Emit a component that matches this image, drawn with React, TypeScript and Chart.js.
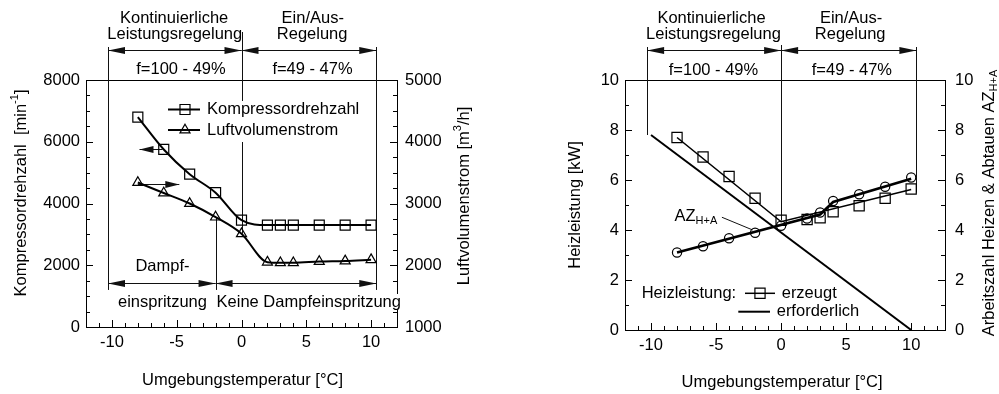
import React, { useEffect, useRef } from 'react';
import { Chart, registerables } from 'chart.js';

Chart.register(...registerables);

const FONT_FAMILY = '"Liberation Sans", Arial, Helvetica, sans-serif';
const FS = 16.5;
const SMALL = 11;
const INK = '#000000';
const LINE = '#111111';

// ---------------- Left panel data ----------------
const tempLeft = [-8, -6, -4, -2, 0, 2, 3, 4, 6, 8, 10];
const kompressorDrehzahl = [6800, 5750, 4950, 4350, 3460, 3300, 3300, 3300, 3300, 3300, 3300];
const luftVolumenstrom = [3340, 3170, 3000, 2780, 2510, 2050, 2040, 2040, 2060, 2070, 2090];

// ---------------- Right panel data ----------------
const tempRight = [-8, -6, -4, -2, 0, 2, 3, 4, 6, 8, 10];
const heizErzeugt = [7.7, 6.92, 6.14, 5.27, 4.39, 4.42, 4.49, 4.73, 4.97, 5.27, 5.64];
const erzeugtFitT = [-8, 0, 10];
const erzeugtFitV = [7.7, 4.33, 5.62];
const azHA = [3.1, 3.35, 3.67, 3.89, 4.17, 4.46, 4.7, 5.16, 5.43, 5.73, 6.1];
const azFitT = [-8, 3, 4, 10];
const azFitV = [3.1, 4.62, 5.12, 6.05];
const erforderlichT = [-10, 10];
const erforderlichV = [7.8, 0];

// ---------------- Tick labels ----------------
const xMajorTicks = [-10, -5, 0, 5, 10];
const leftYTicks = [0, 2000, 4000, 6000, 8000];
const leftY2Ticks = [1000, 2000, 3000, 4000, 5000];
const rightYTicks = [0, 2, 4, 6, 8, 10];
const rightY2Ticks = [0, 2, 4, 6, 8, 10];

type Seg = { t: string; s?: number; dy?: number };

function setFont(ctx: CanvasRenderingContext2D, size: number) {
  ctx.font = `${size}px ${FONT_FAMILY}`;
}

function drawRich(
  ctx: CanvasRenderingContext2D,
  x: number,
  y: number,
  segs: Seg[],
  align: 'left' | 'center' | 'right' = 'left',
  rotate = false,
  bg = false
) {
  ctx.save();
  ctx.translate(x, y);
  if (rotate) ctx.rotate(-Math.PI / 2);
  let w = 0;
  const widths = segs.map((sg) => {
    setFont(ctx, sg.s ?? FS);
    const m = ctx.measureText(sg.t).width;
    w += m;
    return m;
  });
  let cx = align === 'left' ? 0 : align === 'center' ? -w / 2 : -w;
  if (bg) {
    ctx.fillStyle = '#ffffff';
    ctx.fillRect(cx - 1, -8, w + 2, 16);
  }
  ctx.fillStyle = INK;
  ctx.textBaseline = 'middle';
  ctx.textAlign = 'left';
  segs.forEach((sg, i) => {
    setFont(ctx, sg.s ?? FS);
    ctx.fillText(sg.t, cx, sg.dy ?? 0);
    cx += widths[i];
  });
  ctx.restore();
}

function vline(ctx: CanvasRenderingContext2D, x: number, y1: number, y2: number) {
  const px = Math.round(x) + 0.5;
  ctx.beginPath();
  ctx.moveTo(px, y1);
  ctx.lineTo(px, y2);
  ctx.stroke();
}

function hline(ctx: CanvasRenderingContext2D, x1: number, x2: number, y: number) {
  const py = Math.round(y) + 0.5;
  ctx.beginPath();
  ctx.moveTo(x1, py);
  ctx.lineTo(x2, py);
  ctx.stroke();
}

function arrowHead(ctx: CanvasRenderingContext2D, tipX: number, tipY: number, dir: number, len = 17, hw = 3.5) {
  const y = Math.round(tipY) + 0.5;
  ctx.beginPath();
  ctx.moveTo(tipX, y);
  ctx.lineTo(tipX - dir * len, y - hw);
  ctx.lineTo(tipX - dir * len, y + hw);
  ctx.closePath();
  ctx.fill();
}

function doubleArrow(ctx: CanvasRenderingContext2D, x1: number, x2: number, y: number) {
  hline(ctx, x1, x2, y);
  arrowHead(ctx, x1, y, -1);
  arrowHead(ctx, x2, y, 1);
}

function drawMarker(ctx: CanvasRenderingContext2D, style: string, x: number, y: number, r: number) {
  ctx.beginPath();
  if (style === 'rect') {
    const s = r * Math.SQRT1_2;
    ctx.rect(x - s, y - s, 2 * s, 2 * s);
  } else if (style === 'triangle') {
    let rad = 0;
    ctx.moveTo(x + Math.sin(rad) * r, y - Math.cos(rad) * r);
    rad += (2 * Math.PI) / 3;
    ctx.lineTo(x + Math.sin(rad) * r, y - Math.cos(rad) * r);
    rad += (2 * Math.PI) / 3;
    ctx.lineTo(x + Math.sin(rad) * r, y - Math.cos(rad) * r);
    ctx.closePath();
  } else {
    ctx.arc(x, y, r, 0, Math.PI * 2);
  }
  ctx.stroke();
}

function range(a: number, b: number, step: number) {
  const out: number[] = [];
  for (let v = a; v <= b + 1e-9; v += step) out.push(v);
  return out;
}

function drawAxisTicks(chart: any, ticks: { x: [number[], number[]]; y: [number[], number[]]; y2: [number[], number[]] }) {
  const ctx: CanvasRenderingContext2D = chart.ctx;
  const ca = chart.chartArea;
  ctx.save();
  ctx.strokeStyle = INK;
  ctx.lineWidth = 1;
  const MAJ = 7;
  const MIN = 4;
  const sx = chart.scales.x;
  ticks.x[0].forEach((v) => vline(ctx, sx.getPixelForValue(v), ca.bottom, ca.bottom - MAJ));
  ticks.x[1].forEach((v) => vline(ctx, sx.getPixelForValue(v), ca.bottom, ca.bottom - MIN));
  const sy = chart.scales.y;
  ticks.y[0].forEach((v) => hline(ctx, ca.left, ca.left + MAJ, sy.getPixelForValue(v)));
  ticks.y[1].forEach((v) => hline(ctx, ca.left, ca.left + MIN, sy.getPixelForValue(v)));
  const sy2 = chart.scales.y2;
  ticks.y2[0].forEach((v) => hline(ctx, ca.right - MAJ, ca.right, sy2.getPixelForValue(v)));
  ticks.y2[1].forEach((v) => hline(ctx, ca.right - MIN, ca.right, sy2.getPixelForValue(v)));
  // top frame line
  hline(ctx, ca.left, ca.right + 0.5, ca.top);
  ctx.restore();
}

function baseScales(
  xMin: number,
  xMax: number,
  yTicks: number[],
  y2Ticks: number[],
  xHeight: number,
  yWidth: number,
  y2Width: number,
  y2Pad: number
) {
  const font = { family: FONT_FAMILY, size: FS };
  const common = {
    grid: { display: false, drawTicks: false },
    border: { display: true, color: INK, width: 1 },
  };
  return {
    x: {
      type: 'linear',
      min: xMin,
      max: xMax,
      ...common,
      afterBuildTicks: (s: any) => {
        s.ticks = xMajorTicks.map((value) => ({ value }));
      },
      afterFit: (s: any) => {
        s.height = xHeight;
      },
      ticks: { font, color: INK, padding: 6, maxRotation: 0, autoSkip: false, callback: (v: any) => String(v) },
    },
    y: {
      type: 'linear',
      position: 'left',
      min: yTicks[0],
      max: yTicks[yTicks.length - 1],
      ...common,
      afterBuildTicks: (s: any) => {
        s.ticks = yTicks.map((value) => ({ value }));
      },
      afterFit: (s: any) => {
        s.width = yWidth;
      },
      ticks: { font, color: INK, padding: 6, autoSkip: false, callback: (v: any) => String(v) },
    },
    y2: {
      type: 'linear',
      position: 'right',
      min: y2Ticks[0],
      max: y2Ticks[y2Ticks.length - 1],
      ...common,
      afterBuildTicks: (s: any) => {
        s.ticks = y2Ticks.map((value) => ({ value }));
      },
      afterFit: (s: any) => {
        s.width = y2Width;
      },
      ticks: { font, color: INK, padding: y2Pad, autoSkip: false, callback: (v: any) => String(v) },
    },
  };
}

function leftConfig(): any {
  const annot = {
    id: 'leftAnnot',
    beforeDatasetsDraw(chart: any) {
      const ctx: CanvasRenderingContext2D = chart.ctx;
      const ca = chart.chartArea;
      const X = (v: number) => chart.scales.x.getPixelForValue(v);
      const Y = (v: number) => chart.scales.y.getPixelForValue(v);
      const Y2 = (v: number) => chart.scales.y2.getPixelForValue(v);
      drawAxisTicks(chart, {
        x: [xMajorTicks, range(-11, 11, 1)],
        y: [leftYTicks, range(0, 8000, 500)],
        y2: [leftY2Ticks, range(1000, 5000, 250)],
      });
      ctx.save();
      ctx.strokeStyle = LINE;
      ctx.fillStyle = LINE;
      ctx.lineWidth = 1;
      const i0 = tempLeft.indexOf(0);
      const im2 = tempLeft.indexOf(-2);
      vline(ctx, X(-10.3), ca.top - 33, Y(1200));
      vline(ctx, X(10.4), ca.top - 33, Y(1200));
      vline(ctx, X(0), ca.top - 48, Y2(luftVolumenstrom[i0]));
      vline(ctx, X(-2), Y2(luftVolumenstrom[im2]), Y(1200));
      doubleArrow(ctx, X(-10.3), X(0), ca.top - 30);
      doubleArrow(ctx, X(0), X(10.4), ca.top - 30);
      doubleArrow(ctx, X(-10.3), X(-2), Y(1425));
      doubleArrow(ctx, X(-2), X(10.4), Y(1425));
      // axis-pointer arrows
      const im6 = tempLeft.indexOf(-6);
      const im8 = tempLeft.indexOf(-8);
      const ya = Y(kompressorDrehzahl[im6]);
      hline(ctx, X(-7.87), X(-6.1), ya);
      arrowHead(ctx, X(-7.87), ya, -1, 14, 3.5);
      const yb = Y2(luftVolumenstrom[im8]) + 1;
      hline(ctx, X(-8.0), X(-4.8), yb);
      arrowHead(ctx, X(-4.8), yb, 1, 14, 3.5);
      ctx.restore();
    },
    afterDatasetsDraw(chart: any) {
      const ctx: CanvasRenderingContext2D = chart.ctx;
      const ca = chart.chartArea;
      const X = (v: number) => chart.scales.x.getPixelForValue(v);
      const Y = (v: number) => chart.scales.y.getPixelForValue(v);
      // Texts above plot
      drawRich(ctx, X(-5.2), ca.top - 62, [{ t: 'Kontinuierliche' }], 'center');
      drawRich(ctx, X(-5.15), ca.top - 46, [{ t: 'Leistungsregelung' }], 'center');
      drawRich(ctx, X(5.5), ca.top - 62, [{ t: 'Ein/Aus-' }], 'center');
      drawRich(ctx, X(5.45), ca.top - 46, [{ t: 'Regelung' }], 'center');
      drawRich(ctx, X(-4.67), ca.top - 11, [{ t: 'f=100 - 49%' }], 'center');
      drawRich(ctx, X(5.48), ca.top - 11, [{ t: 'f=49 - 47%' }], 'center');
      // Bottom annotation texts
      drawRich(ctx, X(-6.1), Y(1950), [{ t: 'Dampf-' }], 'center');
      drawRich(ctx, X(-6.1), Y(810), [{ t: 'einspritzung' }], 'center', false, true);
      drawRich(ctx, X(-2) + 1, Y(810), [{ t: 'Keine Dampfeinspritzung' }], 'left', false, true);
      // Legend
      ctx.save();
      ctx.fillStyle = '#ffffff';
      ctx.fillRect(ca.left + 79, ca.top + 21, 205, 41);
      ctx.strokeStyle = INK;
      ctx.lineWidth = 2;
      const r1 = ca.top + 29.5;
      const r2 = ca.top + 50;
      ctx.beginPath();
      ctx.moveTo(ca.left + 82, r1);
      ctx.lineTo(ca.left + 114, r1);
      ctx.moveTo(ca.left + 82, r2);
      ctx.lineTo(ca.left + 114, r2);
      ctx.stroke();
      ctx.lineWidth = 1.2;
      drawMarker(ctx, 'rect', ca.left + 99, r1, 7.07);
      drawMarker(ctx, 'triangle', ca.left + 99, r2, 5.8);
      ctx.restore();
      drawRich(ctx, ca.left + 121, r1, [{ t: 'Kompressordrehzahl' }], 'left');
      drawRich(ctx, ca.left + 121, r2, [{ t: 'Luftvolumenstrom' }], 'left');
    },
    afterDraw(chart: any) {
      const ctx: CanvasRenderingContext2D = chart.ctx;
      const ca = chart.chartArea;
      const X = (v: number) => chart.scales.x.getPixelForValue(v);
      drawRich(ctx, X(0) + 1, ca.bottom + 53, [{ t: 'Umgebungstemperatur [°C]' }], 'center');
      drawRich(
        ctx,
        21,
        193,
        [{ t: 'Kompressordrehzahl  [min' }, { t: '-1', s: SMALL, dy: -6 }, { t: ']' }],
        'center',
        true
      );
      drawRich(
        ctx,
        464,
        196,
        [{ t: 'Luftvolumenstrom [m' }, { t: '3', s: SMALL, dy: -6 }, { t: '/h]' }],
        'center',
        true
      );
    },
  };

  const pt = {
    pointBackgroundColor: 'rgba(0,0,0,0)',
    pointBorderColor: INK,
    pointBorderWidth: 1.2,
  };

  return {
    type: 'scatter',
    data: {
      datasets: [
        {
          label: 'Kompressordrehzahl',
          data: tempLeft.map((x, i) => ({ x, y: kompressorDrehzahl[i] })),
          yAxisID: 'y',
          showLine: true,
          borderColor: INK,
          borderWidth: 2,
          cubicInterpolationMode: 'monotone',
          pointStyle: 'rect',
          pointRadius: 7.07,
          ...pt,
        },
        {
          label: 'Luftvolumenstrom',
          data: tempLeft.map((x, i) => ({ x, y: luftVolumenstrom[i] })),
          yAxisID: 'y2',
          showLine: true,
          borderColor: INK,
          borderWidth: 2,
          cubicInterpolationMode: 'monotone',
          pointStyle: 'triangle',
          pointRadius: 5.8,
          ...pt,
        },
      ],
    },
    options: {
      animation: false,
      responsive: false,
      events: [],
      layout: { padding: { top: 80, left: 0, right: 0, bottom: 0 } },
      plugins: { legend: { display: false }, tooltip: { enabled: false } },
      scales: baseScales(-12, 12, leftYTicks, leftY2Ticks, 67, 86, 103, 8),
    },
    plugins: [annot],
  };
}

function rightConfig(): any {
  const annot = {
    id: 'rightAnnot',
    beforeDatasetsDraw(chart: any) {
      const ctx: CanvasRenderingContext2D = chart.ctx;
      const ca = chart.chartArea;
      const X = (v: number) => chart.scales.x.getPixelForValue(v);
      const Y = (v: number) => chart.scales.y.getPixelForValue(v);
      drawAxisTicks(chart, {
        x: [xMajorTicks, range(-11, 12, 1)],
        y: [rightYTicks, range(0, 10, 1)],
        y2: [rightY2Ticks, range(0, 10, 1)],
      });
      ctx.save();
      ctx.strokeStyle = LINE;
      ctx.fillStyle = LINE;
      ctx.lineWidth = 1;
      const i0 = tempRight.indexOf(0);
      vline(ctx, X(-10.3), ca.top - 33, Y(erforderlichV[0]));
      vline(ctx, X(0), ca.top - 35, Y(heizErzeugt[i0]));
      vline(ctx, X(10.4), ca.top - 33, Y(5.5));
      doubleArrow(ctx, X(-10.3), X(0), ca.top - 30);
      doubleArrow(ctx, X(0), X(10.4), ca.top - 30);
      // leader line for AZ label
      ctx.beginPath();
      ctx.moveTo(X(-4.55), Y(4.51));
      ctx.lineTo(X(-2.18), Y(4.0));
      ctx.stroke();
      ctx.restore();
    },
    afterDatasetsDraw(chart: any) {
      const ctx: CanvasRenderingContext2D = chart.ctx;
      const ca = chart.chartArea;
      const X = (v: number) => chart.scales.x.getPixelForValue(v);
      const Y = (v: number) => chart.scales.y.getPixelForValue(v);
      drawRich(ctx, X(-5.35), ca.top - 62, [{ t: 'Kontinuierliche' }], 'center');
      drawRich(ctx, X(-5.2), ca.top - 46, [{ t: 'Leistungsregelung' }], 'center');
      drawRich(ctx, X(5.38), ca.top - 62, [{ t: 'Ein/Aus-' }], 'center');
      drawRich(ctx, X(5.31), ca.top - 46, [{ t: 'Regelung' }], 'center');
      drawRich(ctx, X(-5.2), ca.top - 10, [{ t: 'f=100 - 49%' }], 'center');
      drawRich(ctx, X(5.44), ca.top - 10, [{ t: 'f=49 - 47%' }], 'center');
      // AZ label
      drawRich(ctx, X(-8.2), Y(4.55), [{ t: 'AZ' }, { t: 'H+A', s: SMALL, dy: 5 }], 'left');
      // Legend
      const r1 = ca.top + 213.3;
      const r2 = ca.top + 231.7;
      drawRich(ctx, ca.left + 16.7, r1, [{ t: 'Heizleistung:' }], 'left');
      ctx.save();
      ctx.strokeStyle = INK;
      ctx.lineWidth = 1.5;
      ctx.beginPath();
      ctx.moveTo(ca.left + 120, r1);
      ctx.lineTo(ca.left + 150, r1);
      ctx.stroke();
      ctx.lineWidth = 1.2;
      drawMarker(ctx, 'rect', ca.left + 135, r1, 7.2);
      ctx.lineWidth = 2;
      ctx.beginPath();
      ctx.moveTo(ca.left + 113.3, r2);
      ctx.lineTo(ca.left + 145, r2);
      ctx.stroke();
      ctx.restore();
      drawRich(ctx, ca.left + 156.7, r1, [{ t: 'erzeugt' }], 'left');
      drawRich(ctx, ca.left + 151.7, r2, [{ t: 'erforderlich' }], 'left');
    },
    afterDraw(chart: any) {
      const ctx: CanvasRenderingContext2D = chart.ctx;
      const ca = chart.chartArea;
      const X = (v: number) => chart.scales.x.getPixelForValue(v);
      drawRich(ctx, X(0) + 1, ca.bottom + 52, [{ t: 'Umgebungstemperatur [°C]' }], 'center');
      drawRich(ctx, 75, 205, [{ t: 'Heizleistung [kW]' }], 'center', true);
      drawRich(
        ctx,
        489,
        203,
        [{ t: 'Arbeitszahl Heizen & Abtauen AZ' }, { t: 'H+A', s: SMALL, dy: 5 }],
        'center',
        true
      );
    },
  };

  const noPts = { pointRadius: 0, pointHoverRadius: 0 };
  const pt = {
    pointBackgroundColor: 'rgba(0,0,0,0)',
    pointBorderColor: INK,
    pointBorderWidth: 1.2,
  };

  return {
    type: 'scatter',
    data: {
      datasets: [
        {
          label: 'erforderlich',
          data: erforderlichT.map((x, i) => ({ x, y: erforderlichV[i] })),
          yAxisID: 'y',
          showLine: true,
          borderColor: INK,
          borderWidth: 2,
          ...noPts,
        },
        {
          label: 'erzeugt (Linie)',
          data: erzeugtFitT.map((x, i) => ({ x, y: erzeugtFitV[i] })),
          yAxisID: 'y',
          showLine: true,
          borderColor: INK,
          borderWidth: 1.6,
          ...noPts,
        },
        {
          label: 'erzeugt',
          data: tempRight.map((x, i) => ({ x, y: heizErzeugt[i] })),
          yAxisID: 'y',
          showLine: false,
          pointStyle: 'rect',
          pointRadius: 7.2,
          ...pt,
        },
        {
          label: 'AZ H+A (Linie)',
          data: azFitT.map((x, i) => ({ x, y: azFitV[i] })),
          yAxisID: 'y2',
          showLine: true,
          borderColor: INK,
          borderWidth: 2.6,
          ...noPts,
        },
        {
          label: 'AZ H+A',
          data: tempRight.map((x, i) => ({ x, y: azHA[i] })),
          yAxisID: 'y2',
          showLine: false,
          pointStyle: 'circle',
          pointRadius: 4.6,
          ...pt,
        },
      ],
    },
    options: {
      animation: false,
      responsive: false,
      events: [],
      layout: { padding: { top: 80, left: 0, right: 0, bottom: 0 } },
      plugins: { legend: { display: false }, tooltip: { enabled: false } },
      scales: baseScales(-12, 12.6, rightYTicks, rightY2Ticks, 64, 125, 54, 10),
    },
    plugins: [annot],
  };
}

function Panel({ makeConfig, left, width }: { makeConfig: () => any; left: number; width: number }) {
  const ref = useRef<HTMLCanvasElement | null>(null);
  useEffect(() => {
    if (!ref.current) return;
    const chart = new Chart(ref.current, makeConfig());
    return () => chart.destroy();
  }, [makeConfig]);
  return (
    <canvas
      ref={ref}
      width={width}
      height={394}
      style={{ position: 'absolute', left, top: 0, width, height: 394, display: 'block' }}
    />
  );
}

export default function App() {
  return (
    <div
      style={{
        position: 'fixed',
        left: 0,
        top: 0,
        width: 999,
        height: 394,
        background: '#ffffff',
        overflow: 'hidden',
      }}
    >
      <Panel makeConfig={leftConfig} left={0} width={500} />
      <Panel makeConfig={rightConfig} left={500} width={499} />
    </div>
  );
}
